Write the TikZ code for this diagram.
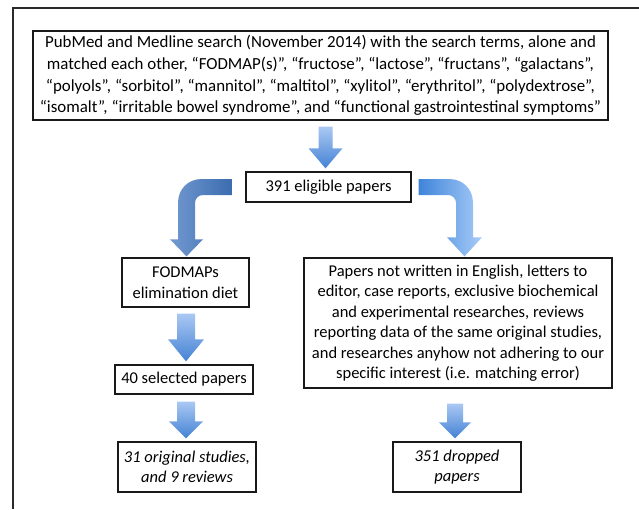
\documentclass[tikz,border=0pt]{standalone}
\usepackage{fontspec}
\setmainfont{Carlito}
\usetikzlibrary{calc}
\definecolor{vtop}{RGB}{170,200,243}
\definecolor{vbot}{RGB}{68,130,212}
\definecolor{lleft}{RGB}{114,153,209}
\definecolor{lright}{RGB}{59,108,174}
\definecolor{rleft}{RGB}{63,132,218}
\definecolor{rright}{RGB}{168,204,248}
\definecolor{framecol}{RGB}{42,42,42}
\newcommand{\vblock}[7]{%
  \path[vgrad] let \p1=(#1.south), \p2=([xshift=#3]#2.north) in
    ({\x2-#5},{\y1-#4}) -- ({\x2+#5},{\y1-#4}) -- ({\x2+#5},{\y2+3pt+#7})
    -- ({\x2+#6},{\y2+3pt+#7}) -- (\x2,{\y2+3pt}) -- ({\x2-#6},{\y2+3pt+#7})
    -- ({\x2-#5},{\y2+3pt+#7}) -- cycle;}
\begin{document}
\begin{tikzpicture}[x=1pt,y=-1pt,
  box/.style={draw=black!90, line width=1.3pt, fill=white, inner sep=0pt,
    align=center, font=\fontsize{16.5}{20.5}\selectfont},
  vgrad/.style={top color=vtop, bottom color=vbot},
  lgrad/.style={left color=lleft, right color=lright},
  rgrad/.style={left color=rleft, right color=rright},
  frameline/.style={draw=framecol, line width=1.5pt}]
\useasboundingbox (0,0) rectangle (639,509);
\draw[frameline] (13,509) -- (13,8) -- (639,8);

\node[box, minimum width=575pt, minimum height=89pt,
  font=\fontsize{16.9}{21.6}\selectfont] (search) at (320.5,75.5)
  {PubMed and Medline search (November 2014) with the search terms, alone and\\
   matched each other, “FODMAP(s)”, “fructose”, “lactose”, “fructans”, “galactans”,\\
   “polyols”, “sorbitol”, “mannitol”, “maltitol”, “xylitol”, “erythritol”, “polydextrose”,\\
   “isomalt”, “irritable bowel syndrome”, and “functional gastrointestinal symptoms”};
\node[box, minimum width=165pt, minimum height=30pt] (eligible) at (328.5,187)
  {391 eligible papers};
\node[box, minimum width=127pt, minimum height=49pt] (fodmap) at (185.5,282.5)
  {FODMAPs\\elimination diet};
\node[box, minimum width=138pt, minimum height=29pt] (selected) at (184,379.5)
  {40 selected papers};
\node[box, minimum width=138pt, minimum height=50pt, font=\fontsize{16.5}{20.5}\selectfont\itshape]
  (studies) at (187,467) {31 original studies,\\and 9 reviews};
\node[box, minimum width=308pt, minimum height=130pt] (excluded) at (458,323)
  {Papers not written in English, letters to\\
   editor, case reports, exclusive biochemical\\
   and experimental researches, reviews\\
   reporting data of the same original studies,\\
   and researches anyhow not adhering to our\\
   specific interest (i.e. matching error)};
\node[box, minimum width=128pt, minimum height=50pt, font=\fontsize{16.5}{20.5}\selectfont\itshape]
  (dropped) at (457,467) {351 dropped\\papers};

% straight block arrows
\vblock{search}{eligible}{-3pt}{6pt}{7pt}{17pt}{20pt}
\vblock{fodmap}{selected}{2pt}{6pt}{9pt}{18pt}{22pt}
\vblock{selected}{studies}{-1pt}{7pt}{9pt}{17pt}{17pt}
\vblock{excluded}{dropped}{-2pt}{15pt}{8pt}{16pt}{16pt}

% curved block arrow to the left
\path[lgrad] let \p1=(eligible.west), \p2=([xshift=1pt]fodmap.north) in
  ({\x1-13pt},{\y1+8pt}) -- ({\x2+15.5pt},{\y1+8pt})
  .. controls ({\x2+1.5pt},{\y1+8pt}) and ({\x2-8.5pt},{\y1-2pt}) .. ({\x2-8.5pt},{\y1-16pt})
  -- ({\x2-8.5pt},{\y2+18pt}) -- ({\x2-16.5pt},{\y2+18pt}) -- (\x2,{\y2+1pt})
  -- ({\x2+16.5pt},{\y2+18pt}) -- ({\x2+8.5pt},{\y2+18pt}) -- ({\x2+8.5pt},{\y1-16pt})
  .. controls ({\x2+8.5pt},{\y1-11.5pt}) and ({\x2+12pt},{\y1-8pt}) .. ({\x2+16.5pt},{\y1-8pt})
  -- ({\x1-13pt},{\y1-8pt}) -- cycle;

% curved block arrow to the right
\path[rgrad] let \p1=(eligible.east), \p3=([xshift=6.5pt]excluded.north) in
  ({\x1+7pt},{\y1+8pt}) -- ({\x3-15.5pt},{\y1+8pt})
  .. controls ({\x3-1.5pt},{\y1+8pt}) and ({\x3+8.5pt},{\y1-2pt}) .. ({\x3+8.5pt},{\y1-16pt})
  -- ({\x3+8.5pt},{\y3+20pt}) -- ({\x3+17.5pt},{\y3+20pt}) -- (\x3,{\y3+1pt})
  -- ({\x3-17.5pt},{\y3+20pt}) -- ({\x3-8.5pt},{\y3+20pt}) -- ({\x3-8.5pt},{\y1-16pt})
  .. controls ({\x3-8.5pt},{\y1-11.5pt}) and ({\x3-12pt},{\y1-8pt}) .. ({\x3-16.5pt},{\y1-8pt})
  -- ({\x1+7pt},{\y1-8pt}) -- cycle;
\end{tikzpicture}
\end{document}
